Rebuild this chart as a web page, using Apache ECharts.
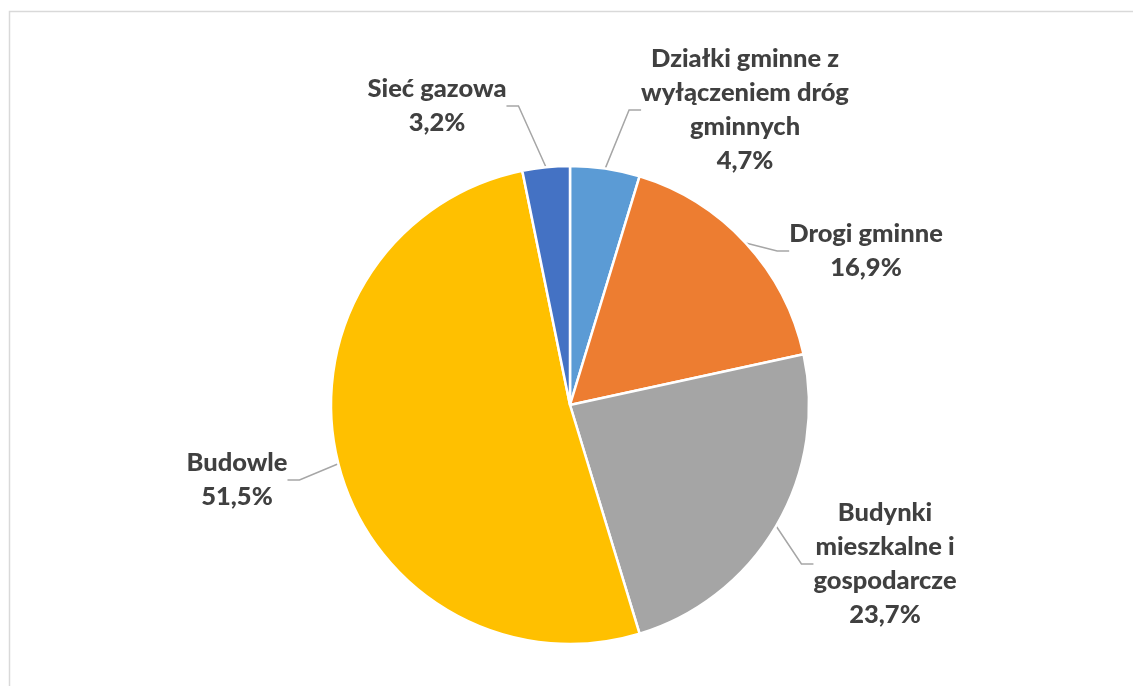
<!DOCTYPE html>
<html><head><meta charset="utf-8">
<script src="https://cdn.jsdelivr.net/npm/echarts@6/dist/echarts.min.js"></script>
<style>html,body{margin:0;padding:0;background:#fff}#c{width:1133px;height:686px}</style>
</head><body><div id="c"></div>
<script>
const categories = ['Działki gminne z\nwyłączeniem dróg\ngminnych', 'Drogi gminne', 'Budynki\nmieszkalne i\ngospodarcze', 'Budowle', 'Sieć gazowa'];
const values = [4.7, 16.9, 23.7, 51.5, 3.2];
const colors = ['#5B9BD5', '#ED7D31', '#A5A5A5', '#FFC000', '#4472C4'];
// label block centres (layout, not data)
const labelPos = [[745, 110], [866, 251], [885, 564], [237, 480], [437, 106]];

const chart = echarts.init(document.getElementById('c'));
chart.setOption({
  animation: false,
  graphic: [{type: 'rect', shape: {x: 9.5, y: 11.5, width: 1300, height: 1000}, style: {fill: 'none', stroke: '#D9D9D9', lineWidth: 1.5}, silent: true}],
  series: [{
    type: 'pie',
    center: [570, 405],
    radius: 239,
    startAngle: 90,
    clockwise: true,
    avoidLabelOverlap: false,
    data: categories.map((n, i) => ({name: n, value: values[i], itemStyle: {color: colors[i]}})),
    itemStyle: {borderColor: '#fff', borderWidth: 2.5},
    label: {
      show: true, position: 'outside',
      formatter: p => p.name + '\n' + p.value.toFixed(1).replace('.', ',') + '%',
      fontFamily: 'Lato', fontWeight: 900, fontSize: 25.5, lineHeight: 34,
      color: '#404040', align: 'center'
    },
    labelLine: {show: true, length: 20, length2: 12, lineStyle: {color: '#A6A6A6', width: 1.5}},
    labelLayout: p => ({x: labelPos[p.dataIndex][0], y: labelPos[p.dataIndex][1], align: 'center', verticalAlign: 'middle'})
  }]
});
</script></body></html>
